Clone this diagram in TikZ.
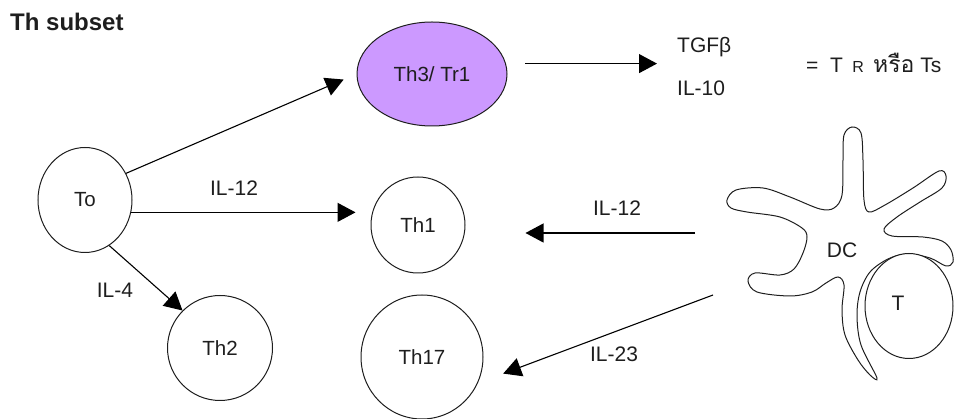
\documentclass[tikz,border=0pt]{standalone}
\usepackage{fontspec}
\setmainfont{Liberation Sans}
\newfontfamily\thaifont[Script=Thai]{Loma}
\usetikzlibrary{arrows.meta,shapes.geometric}

\definecolor{ink}{HTML}{1E1E1E}
\definecolor{tregfill}{HTML}{CC99FF}

\tikzset{
  cell/.style={draw=ink, line width=1pt, ellipse, inner sep=0pt, text=ink,
               font=\fontsize{20.5}{24}\selectfont},
  lbl/.style={text=ink, inner sep=0pt, font=\fontsize{21}{24}\selectfont},
  arr/.style={draw=black, line width=1.1pt,
              -{Triangle[length=18pt,width=19pt]}},
  membrane/.style={draw=ink, line width=1pt},
}

\begin{document}
\begin{tikzpicture}[x=1pt,y=-1pt]
\useasboundingbox (0,0) rectangle (954,419);

% title
\node[lbl, anchor=west, font=\bfseries\fontsize{24}{28}\selectfont] (title) at (10,22) {Th subset};

% T-cell subsets
\node[cell, minimum width=94pt, minimum height=105pt] (To) at (85,200) {To};
\node[cell, fill=tregfill, minimum width=150pt, minimum height=104pt] (Th3) at (432,74) {Th3/ Tr1};
\node[cell, minimum width=94pt, minimum height=96pt] (Th1) at (418,225) {Th1};
\node[cell, minimum width=105pt, minimum height=105pt] (Th2) at (220,348) {Th2};
\node[cell, minimum width=122pt, minimum height=124pt] (Th17) at (422,357) {Th17};

% cytokines released by Th3/Tr1
\node[lbl, anchor=west] (tgf) at (677,47) {TGFβ};
\node[lbl, anchor=west] (il10) at (677,88) {IL-10};
\node[lbl, anchor=west] (treg) at (806,63)
  {=\ \ T\, {\fontsize{16}{16}\selectfont R}\, {\thaifont\fontsize{23}{24}\selectfont หรือ} Ts};

% dendritic cell with an attached T cell
\draw[membrane] plot[smooth cycle, tension=0.55] coordinates {
  (727,200) (736,190) (763,188) (790,197) (820,209) (834,208) (842,195)
  (843,160) (844,135) (852,127) (861,133) (863,160) (864,200) (869,212)
  (885,205) (913,188) (939,171) (946,176) (942,188) (920,202) (897,217)
  (884,229) (892,236) (923,237) (942,241) (951,250) (953,262) (946,266)
  (930,258) (907,254) (888,259) (870,272) (860,292) (857,316) (861,345)
  (877,378) (870,375) (858,360) (845,335) (842,310) (844,285) (838,277)
  (826,283) (812,292) (790,296) (757,292) (748,281) (755,273) (780,275)
  (794,269) (803,253) (807,237) (802,228) (780,217) (747,212) (731,208)
};
\node[cell, fill=white, minimum width=88pt, minimum height=105pt] (T) at (909,306) {};
\node[lbl] (Tlab) at (898,303) {T};
\node[lbl] (DC) at (842,250) {DC};

\coordinate (dcA) at (695,233);
\coordinate (dcB) at (713,295);

% differentiation arrows
\draw[arr] (To.33) -- (Th3.west) [shorten >=14pt];
\draw[arr, shorten >=15pt] (To.-15) -- (To.-15 -| Th1.west);
\draw[arr] (To.-62) -- (Th2.135);
\draw[arr, shorten <=19pt, shorten >=20pt] (Th3.8) -- (Th3.8 -| tgf.west);
\draw[arr, shorten >=60pt] (dcA) -- (dcA -| Th1.east);
\draw[arr, shorten >=27pt] (dcB) -- (Th17.-25);

% arrow labels
\node[lbl] (l12a) at (234,188) {IL-12};
\node[lbl] (l4) at (115,290) {IL-4};
\node[lbl] (l12b) at (617,208) {IL-12};
\node[lbl] (l23) at (614,354) {IL-23};
\end{tikzpicture}
\end{document}
